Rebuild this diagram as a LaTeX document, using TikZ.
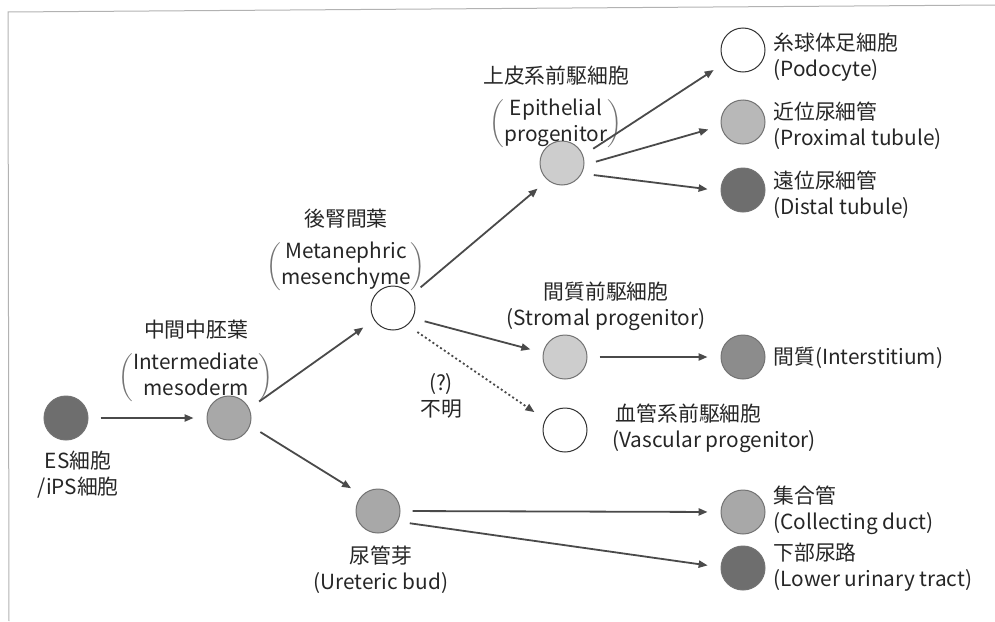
\documentclass[tikz,border=0pt]{standalone}
\usepackage{fontspec}
\setmainfont{Noto Sans CJK JP}
\usepackage{xcolor}
\usetikzlibrary{arrows.meta}
\definecolor{cellDark}{HTML}{6E6E6E}
\definecolor{cellMid}{HTML}{A8A8A8}
\definecolor{cellPale}{HTML}{B8B8B8}
\definecolor{cellLight}{HTML}{CDCDCD}
\definecolor{cellInter}{HTML}{8C8C8C}
\definecolor{arrowGray}{HTML}{4A4A4A}
\colorlet{parenGray}{black!55}
\newcommand{\twoline}[2]{{\color{parenGray}$\left(\begin{tabular}{@{}c@{}}\color{black!85}#1\\\color{black!85}#2\end{tabular}\right)$}}

\begin{document}
\begin{tikzpicture}[x=0.5pt, y=-0.5pt,
  cell/.style={circle, minimum size=22pt, inner sep=0pt, draw=black!55, line width=0.5pt},
  opencell/.style={cell, fill=white, draw=black!80},
  lbl/.style={align=center, text=black!85, font=\fontsize{10.4}{13}\selectfont, inner sep=0pt},
  sidelbl/.style={lbl, anchor=west, align=left},
  flow/.style={draw=arrowGray, line width=0.9pt, -{Triangle[length=4.5pt, width=3.6pt]},
    shorten <=6pt, shorten >=6.5pt}]
  \useasboundingbox (0,0) rectangle (995,621);
  \draw[gray!60, line width=0.5pt] (995,5) -- (8,12) -- (9,621);

  \node[cell, fill=cellDark] (es) at (66,418) {};
  \node[cell, fill=cellMid] (im) at (229,418) {};
  \node[opencell] (mm) at (393,308) {};
  \node[cell, fill=cellMid] (ub) at (378,511) {};
  \node[cell, fill=cellLight] (epi) at (562,163) {};
  \node[cell, fill=cellLight] (strom) at (565,357) {};
  \node[opencell] (vasc) at (565,430) {};
  \node[opencell] (podo) at (743,50) {};
  \node[cell, fill=cellPale] (prox) at (743,122) {};
  \node[cell, fill=cellDark] (dist) at (743,190) {};
  \node[cell, fill=cellInter] (inter) at (743,357) {};
  \node[cell, fill=cellMid] (coll) at (743,512) {};
  \node[cell, fill=cellDark] (lower) at (743,568) {};

  \node[lbl] (esLbl) at (78,475) {ES細胞\\/iPS細胞};
  \node[lbl] (imLbl) at (196,362) {中間中胚葉\\[5pt]\twoline{Intermediate}{mesoderm}};
  \node[lbl] (mmLbl) at (346,251) {後腎間葉\\[5pt]\twoline{Metanephric}{mesenchyme}};
  \node[lbl] (ubLbl) at (381,570) {尿管芽\\(Ureteric bud)};
  \node[lbl] (epiLbl) at (556,108) {上皮系前駆細胞\\[5pt]\twoline{Epithelial}{progenitor}};
  \node[lbl] (unkLbl) at (441,396) {(?)\\不明};
  \node[lbl] (stromLbl) at (606,306) {間質前駆細胞\\(Stromal progenitor)};
  \node[sidelbl] (vascLbl) at (612,428) {\,血管系前駆細胞\\(Vascular progenitor)};
  \node[sidelbl] (podoLbl) at (773,57) {糸球体足細胞\\(Podocyte)};
  \node[sidelbl] (proxLbl) at (773,126) {近位尿細管\\(Proximal tubule)};
  \node[sidelbl] (distLbl) at (773,195) {遠位尿細管\\(Distal tubule)};
  \node[sidelbl] (interLbl) at (773,358) {間質(Interstitium)};
  \node[sidelbl] (collLbl) at (773,510) {集合管\\(Collecting duct)};
  \node[sidelbl] (lowerLbl) at (773,567) {下部尿路\\(Lower urinary tract)};

  \draw[flow] (es) -- (im);
  \draw[flow] (im.25) -- (mm.212);
  \draw[flow] (im.-20) -- (ub.135);
  \draw[flow] (mm.35) -- (epi.230);
  \draw[flow] (mm.-27) -- (strom.169);
  \draw[flow, dash pattern=on 1pt off 1.3pt] (mm.-50) -- (vasc.152);
  \draw[flow] (ub.0) -- (coll.180);
  \draw[flow] (ub.-28) -- (lower.178);
  \draw[flow] (epi.20) -- (podo.215);
  \draw[flow] (epi.-5) -- (prox.190);
  \draw[flow] (epi.-28) -- (dist.182);
  \draw[flow] (strom) -- (inter);
\end{tikzpicture}
\end{document}
